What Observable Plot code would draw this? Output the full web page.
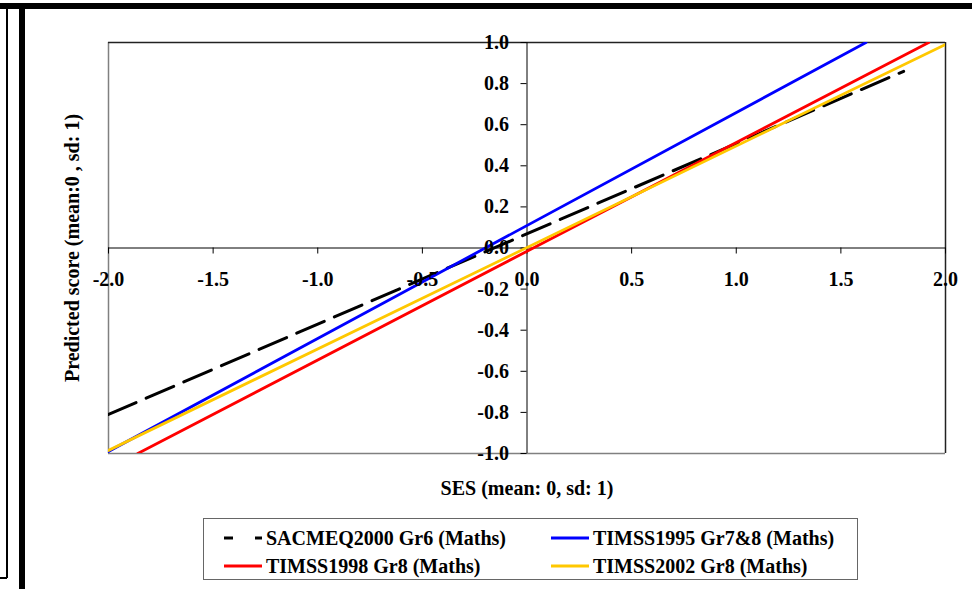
<!DOCTYPE html>
<html>
<head>
<meta charset="utf-8">
<script src="https://cdn.jsdelivr.net/npm/d3@7"></script>
<script src="https://cdn.jsdelivr.net/npm/@observablehq/plot@0.6"></script>
<style>
  html, body { margin: 0; padding: 0; background: #fff; }
  #wrap { position: relative; width: 972px; height: 589px; overflow: hidden; font-family: "Liberation Serif", "Times New Roman", serif; font-weight: bold; }
  #wrap svg.chart { position: absolute; left: 0; top: 0; }
  .bar { position: absolute; background: #000; }
  #legend { position: absolute; left: 203px; top: 518px; width: 653px; height: 60px; border: 1px solid #666; background: #fff; }
  .item { position: absolute; height: 24px; display: flex; align-items: center; font-size: 20px; color: #000; white-space: nowrap; }
  .item svg { margin-right: 4px; }
</style>
</head>
<body>
<div id="wrap">
  <div class="bar" style="left:0;top:3px;width:972px;height:6px"></div>
  <div class="bar" style="left:6px;top:9px;width:1.5px;height:569px"></div>
  <div class="bar" style="left:0;top:577px;width:7px;height:1.5px"></div>
  <div class="bar" style="left:19px;top:9px;width:6px;height:580px"></div>
  <div id="legend"></div>
</div>
<script>
// Socio-economic status (SES) gradients of predicted maths scores, standardised units
const seriesNames = [
  "SACMEQ2000 Gr6 (Maths)",
  "TIMSS1995 Gr7&8 (Maths)",
  "TIMSS1998 Gr8 (Maths)",
  "TIMSS2002 Gr8 (Maths)"
];
const seriesColors = ["#000000", "#0000ff", "#ff0000", "#ffc800"];

// endpoints of each fitted gradient line: SES value and predicted score
const sesSacmeq = [-2.0, 1.8];
const scoreSacmeq = [-0.81, 0.86];
const sesTimss1995 = [-2.0, 1.62];
const scoreTimss1995 = [-0.99, 1.0];
const sesTimss1998 = [-1.86, 1.92];
const scoreTimss1998 = [-1.0, 1.0];
const sesTimss2002 = [-2.0, 2.0];
const scoreTimss2002 = [-0.985, 0.99];

const xTicks = [-2.0, -1.5, -1.0, -0.5, 0.0, 0.5, 1.0, 1.5, 2.0];
const yTicks = [-1.0, -0.8, -0.6, -0.4, -0.2, 0.0, 0.2, 0.4, 0.6, 0.8, 1.0];

const xTitle = "SES (mean: 0, sd: 1)";
const yTitle = "Predicted score (mean:0 , sd: 1)";

const toRows = (name, xs, ys) => xs.map((x, i) => ({series: name, ses: x, score: ys[i]}));
const lineData = [
  toRows(seriesNames[0], sesSacmeq, scoreSacmeq),
  toRows(seriesNames[1], sesTimss1995, scoreTimss1995),
  toRows(seriesNames[2], sesTimss1998, scoreTimss1998),
  toRows(seriesNames[3], sesTimss2002, scoreTimss2002)
];

const chart = Plot.plot({
  width: 972,
  height: 589,
  marginLeft: 108,
  marginRight: 27,
  marginTop: 42,
  marginBottom: 136,
  x: {domain: [-2, 2], axis: null},
  y: {domain: [-1, 1], axis: null},
  style: {fontFamily: "'Liberation Serif', 'Times New Roman', serif", fontWeight: "bold", fontSize: "20px", background: "transparent", color: "#000"},
  marks: [
    // plot area border
    Plot.ruleX([-2], {stroke: "#808080", strokeWidth: 1.5}),
    Plot.ruleY([-1], {stroke: "#808080", strokeWidth: 1.5}),
    Plot.ruleX([2], {stroke: "#222", strokeWidth: 1.5}),
    Plot.ruleY([1], {stroke: "#222", strokeWidth: 1.5}),
    // axes crossing at the origin
    Plot.ruleY([0], {stroke: "#000", strokeWidth: 1}),
    Plot.ruleX([0], {stroke: "#000", strokeWidth: 1}),
    Plot.ruleX(xTicks, {x: d => d, y1: 0, y2: 0, insetBottom: -6, stroke: "#000"}),
    Plot.ruleY(yTicks, {y: d => d, x1: 0, x2: 0, insetLeft: -6, stroke: "#000"}),
    // gradient lines
    Plot.line(lineData[0], {x: "ses", y: "score", stroke: seriesColors[0], strokeWidth: 3, strokeDasharray: "30,11", clip: true}),
    Plot.line(lineData[1], {x: "ses", y: "score", stroke: seriesColors[1], strokeWidth: 2.8, clip: true}),
    Plot.line(lineData[2], {x: "ses", y: "score", stroke: seriesColors[2], strokeWidth: 2.8, clip: true}),
    Plot.line(lineData[3], {x: "ses", y: "score", stroke: seriesColors[3], strokeWidth: 2.8, clip: true}),
    // tick labels
    Plot.text(xTicks, {x: d => d, y: 0, text: d => d.toFixed(1), dy: 32, lineAnchor: "middle", fill: "#000"}),
    Plot.text(yTicks, {x: 0, y: d => d, text: d => d.toFixed(1), dx: -18, textAnchor: "end", lineAnchor: "middle", fill: "#000"}),
    // axis titles
    Plot.text([xTitle], {frameAnchor: "bottom", dy: 35, lineAnchor: "middle", fill: "#000"}),
    Plot.text([yTitle], {frameAnchor: "left", dx: -36, rotate: -90, textAnchor: "middle", lineAnchor: "middle", fill: "#000"})
  ]
});
chart.classList.add("chart");
document.getElementById("wrap").insertBefore(chart, document.getElementById("legend"));

// legend: two columns, two rows
const legend = document.getElementById("legend");
const legendPos = [[20, 7], [347, 7], [20, 35], [347, 35]];
seriesNames.forEach((name, i) => {
  const item = document.createElement("div");
  item.className = "item";
  item.style.left = legendPos[i][0] + "px";
  item.style.top = legendPos[i][1] + "px";
  const ns = "http://www.w3.org/2000/svg";
  const s = document.createElementNS(ns, "svg");
  s.setAttribute("width", 38);
  s.setAttribute("height", 10);
  const l = document.createElementNS(ns, "line");
  l.setAttribute("x1", 0); l.setAttribute("x2", 38);
  l.setAttribute("y1", 5); l.setAttribute("y2", 5);
  l.setAttribute("stroke", seriesColors[i]);
  l.setAttribute("stroke-width", 3);
  if (i === 0) l.setAttribute("stroke-dasharray", "9,22");
  s.appendChild(l);
  item.appendChild(s);
  item.appendChild(document.createTextNode(name));
  legend.appendChild(item);
});
</script>
</body>
</html>
